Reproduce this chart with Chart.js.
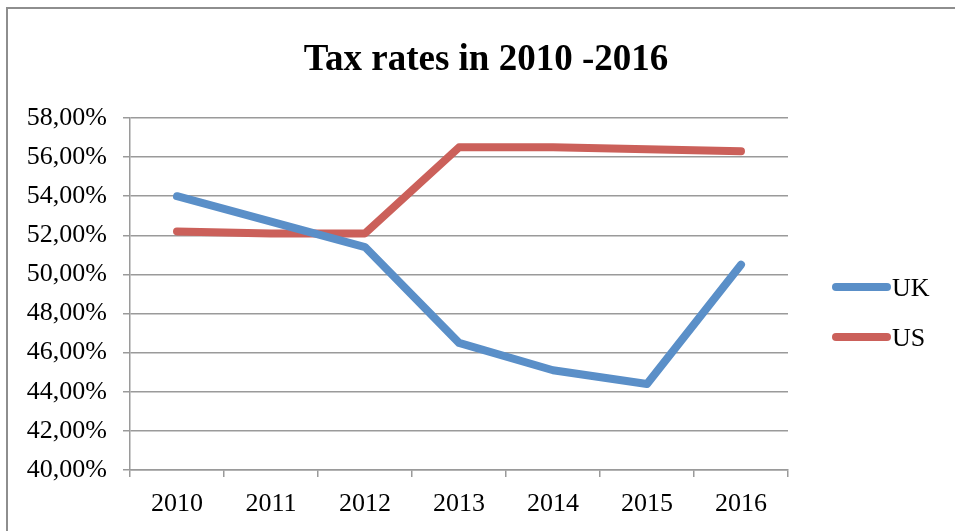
<!DOCTYPE html>
<html>
<head>
<meta charset="utf-8">
<script src="https://cdn.jsdelivr.net/npm/chart.js@4/dist/chart.umd.min.js"></script>
<style>
  html, body { margin: 0; padding: 0; background: #fff; }
  #wrap { position: relative; width: 955px; height: 531px; overflow: hidden; }
  #frame { position: absolute; left: 6px; top: 7px; width: 1000px; height: 600px; border-left: 2px solid #8e8e8e; border-top: 2px solid #8e8e8e; pointer-events: none; }
  canvas { position: absolute; left: 0; top: 0; }
</style>
</head>
<body>
<div id="wrap">
  <canvas id="c" width="955" height="531"></canvas>
  <div id="frame"></div>
</div>
<script>
const titleText = "Tax rates in 2010 -2016";
const years = ["2010", "2011", "2012", "2013", "2014", "2015", "2016"];
const seriesNames = ["UK", "US"];
const ukRates = [54.0, 52.7, 51.4, 46.5, 45.1, 44.4, 50.5];
const usRates = [52.2, 52.1, 52.1, 56.5, 56.5, 56.4, 56.3];
const yMin = 40, yMax = 58, yStep = 2;

const FONT = "'Liberation Serif', 'Times New Roman', serif";

const decorPlugin = {
  id: 'decor',
  afterDraw(chart) {
    const ctx = chart.ctx;
    ctx.save();
    // title
    ctx.fillStyle = '#000';
    ctx.font = 'bold 37px ' + FONT;
    ctx.textAlign = 'center';
    ctx.textBaseline = 'alphabetic';
    ctx.fillText(titleText, 486, 70);
    // legend
    const ys = [287, 337];
    chart.data.datasets.forEach((ds, i) => {
      const y = ys[i];
      ctx.strokeStyle = ds.borderColor;
      ctx.lineWidth = 8;
      ctx.lineCap = 'round';
      ctx.beginPath();
      ctx.moveTo(836, y);
      ctx.lineTo(887, y);
      ctx.stroke();
      ctx.fillStyle = '#000';
      ctx.font = '26px ' + FONT;
      ctx.textBaseline = 'alphabetic';
      ctx.textAlign = 'left';
      ctx.fillText(ds.label, 892, y + 9);
    });
    ctx.restore();
  }
};

new Chart(document.getElementById('c'), {
  type: 'line',
  data: {
    labels: years,
    datasets: [
      { label: seriesNames[0], data: ukRates, borderColor: '#5A8FC8', backgroundColor: '#5A8FC8',
        borderWidth: 8, pointRadius: 0, borderCapStyle: 'round', borderJoinStyle: 'round', tension: 0 },
      { label: seriesNames[1], data: usRates, borderColor: '#CB605A', backgroundColor: '#CB605A',
        borderWidth: 8, pointRadius: 0, borderCapStyle: 'round', borderJoinStyle: 'round', tension: 0 }
    ]
  },
  options: {
    responsive: false,
    animation: false,
    events: [],
    layout: { padding: { left: 0, right: 167, top: 118, bottom: 0 } },
    plugins: {
      legend: { display: false },
      tooltip: { enabled: false },
      title: { display: false }
    },
    scales: {
      x: {
        offset: true,
        grid: { offset: true, drawOnChartArea: false, drawTicks: true, tickLength: 7, color: '#9a9a9a', lineWidth: 1.5 },
        border: { color: '#9a9a9a', width: 1.5 },
        ticks: { color: '#000', font: { family: FONT, size: 26 }, padding: 12, maxRotation: 0 },
        afterFit(scale) { scale.height = 61; }
      },
      y: {
        min: yMin, max: yMax,
        grid: { color: '#9a9a9a', lineWidth: 1.5, tickLength: 7 },
        border: { color: '#9a9a9a', width: 1.5 },
        ticks: {
          stepSize: yStep,
          color: '#000',
          font: { family: FONT, size: 26 },
          padding: 16,
          callback: v => v.toFixed(2).replace('.', ',') + '%'
        },
        afterFit(scale) { scale.width = 130; }
      }
    }
  },
  plugins: [decorPlugin]
});
</script>
</body>
</html>
